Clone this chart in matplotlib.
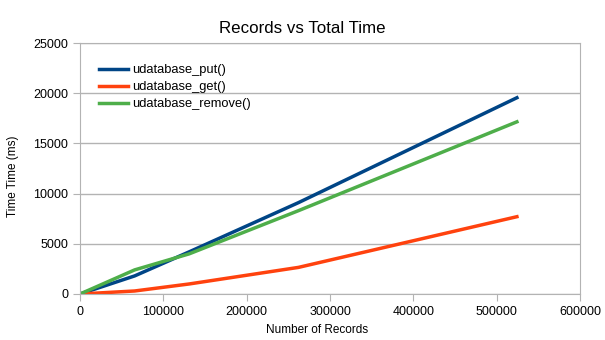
import matplotlib.pyplot as plt

plt.rcParams['font.family'] = ['Liberation Sans', 'DejaVu Sans']

records = [0, 65536, 131072, 262144, 524288]
put_ms = [0, 1800, 4200, 9100, 19550]
get_ms = [0, 300, 1000, 2650, 7700]
remove_ms = [0, 2400, 4000, 8300, 17150]

W, H = 605, 340
fig = plt.figure(figsize=(W / 100, H / 100), dpi=100)
ax = fig.add_axes([80 / W, 1 - 294 / H, 500 / W, 251 / H])

ax.plot(records, put_ms, color='#004586', lw=2.5, label='udatabase_put()')
ax.plot(records, get_ms, color='#ff420e', lw=2.5, label='udatabase_get()')
ax.plot(records, remove_ms, color='#4eae4a', lw=2.5, label='udatabase_remove()')

ax.set_xlim(0, 600000)
ax.set_ylim(0, 25000)
ax.set_xticks(range(0, 600001, 100000))
ax.set_yticks(range(0, 25001, 5000))
ax.yaxis.grid(True, color='#b3b3b3', lw=1)
ax.set_axisbelow(True)
for s in ax.spines.values():
    s.set_color('#b3b3b3')
ax.tick_params(colors='#b3b3b3', labelcolor='black', labelsize=9, length=5)

# title and axis labels placed on the figure like the LibreOffice chart
fig.text(0.5, 1 - 33 / H, 'Records vs Total Time', fontsize=12.2,
         ha='center', va='baseline')
fig.text(317 / W, 1 - 333 / H, 'Number of Records', fontsize=8.5,
         ha='center', va='baseline')
fig.text(13 / W, 1 - 176 / H, 'Time Time (ms)', fontsize=8.5,
         rotation=90, ha='center', va='center')

ax.legend(loc='upper left', bbox_to_anchor=(0.038, 0.916), frameon=False,
          borderaxespad=0, borderpad=0, fontsize=9.3, handlelength=2.25,
          handletextpad=0.3, labelspacing=0.39)

fig.savefig('out.png', dpi=100)
